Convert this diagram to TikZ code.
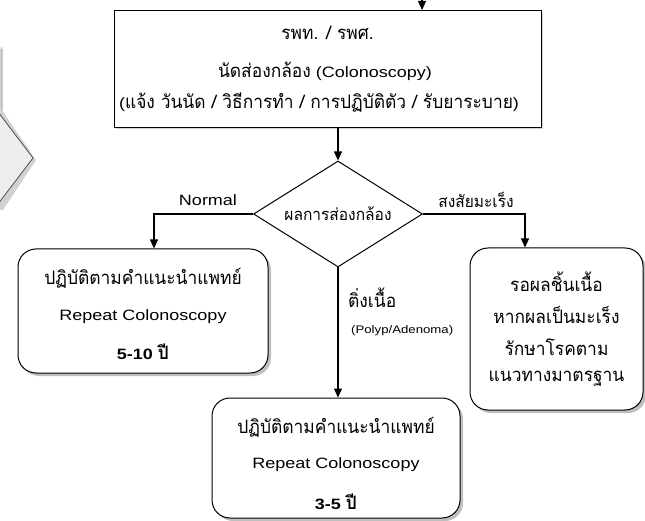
\documentclass[tikz,border=0pt]{standalone}
\usepackage{fontspec}
\setmainfont[FakeStretch=1.2]{Liberation Sans}
\newfontfamily\thaifont[Script=Thai,FakeStretch=0.94]{Loma}
\newcommand{\thx}[1]{{\thaifont\fontsize{18.5}{21}\selectfont #1}}
\newcommand{\thxs}[1]{{\thaifont\fontsize{16.5}{19}\selectfont #1}}
\usetikzlibrary{shapes.geometric,shadows,arrows.meta}
\tikzset{
  conn/.style={line width=1.2pt,-{Triangle[width=8pt,length=9pt]}},
  topbox/.style={draw,line width=1pt,fill=white,minimum width=427pt,minimum height=117pt,align=center,
     drop shadow={opacity=0.35,shadow xshift=1.5pt,shadow yshift=-1.5pt}},
  resbox/.style={draw,line width=1pt,fill=white,rounded corners=18pt,align=center,
     drop shadow={opacity=0.5,shadow xshift=3pt,shadow yshift=-3pt}},
  dec/.style={draw,line width=1pt,fill=white,diamond,minimum width=169pt,minimum height=106pt,inner sep=0pt},
  lbl/.style={font=\fontsize{15}{18}\selectfont,inner sep=0pt},
}
\begin{document}
\begin{tikzpicture}[x=1pt,y=-1pt]
\useasboundingbox (0,0) rectangle (645,521);
% partial gray shape at left edge
\fill[gray!60,opacity=0.6] (-5,49) -- (3,49) -- (3,112) -- (36,160) -- (3,210) -- (-5,210) -- cycle;
\filldraw[fill=black!7,draw=black!75,line width=0.7pt] (-5,108) -- (33,158) -- (-5,208);
\draw[black!25,line width=0.6pt] (1,47) -- (1,109);
% nodes
\node[topbox] (top) at (327.5,69) {};
\node[lbl] (t1) at (327.5,33) {\thx{รพท. / รพศ.}};
\node[lbl] (t2) at (325,71) {\thx{นัดส่องกล้อง} (Colonoscopy)};
\node[lbl] (t3) at (319,103) {(\thx{แจ้ง วันนัด / วิธีการทำ / การปฏิบัติตัว / รับยาระบาย})};
\coordinate (in) at (422,0);
\node[dec] (d) at (338,214) {};
\node[lbl] (dl) at (d.center) {\thxs{ผลการส่องกล้อง}};
\node[resbox,minimum width=250pt,minimum height=124pt] (L) at (143,311) {};
\node[lbl] (L1) at (143,278) {\thx{ปฏิบัติตามคำแนะนำแพทย์}};
\node[lbl] (L2) at (143,317) {Repeat Colonoscopy};
\node[lbl] (L3) at (143,352) {\bfseries 5-10 \thx{\bfseries ปี}};
\node[resbox,minimum width=173pt,minimum height=162pt] (R) at (556.5,329) {};
\node[lbl] (R1) at (556.5,282) {\thx{รอผลชิ้นเนื้อ}};
\node[lbl] (R2) at (556.5,315) {\thx{หากผลเป็นมะเร็ง}};
\node[lbl] (R3) at (556.5,347) {\thx{รักษาโรคตาม}};
\node[lbl] (R4) at (556.5,379) {\thx{แนวทางมาตรฐาน}};
\node[resbox,minimum width=248pt,minimum height=120pt] (B) at (336,458) {};
\node[lbl] (B1) at (336,427) {\thx{ปฏิบัติตามคำแนะนำแพทย์}};
\node[lbl] (B2) at (336,465) {Repeat Colonoscopy};
\node[lbl] (B3) at (336,502) {\bfseries 3-5 \thx{\bfseries ปี}};
% labels
\node[lbl] (nl) at (208,200) {Normal};
\node[lbl] (sl) at (476,200) {\thxs{สงสัยมะเร็ง}};
\node[lbl,anchor=west] (pl) at (348,298) {\thx{ติ่งเนื้อ}};
\node[anchor=west,inner sep=0pt,font=\fontsize{11}{13}\selectfont] (pl2) at (351,331) {(Polyp/Adenoma)};
% connectors
\coordinate (lt) at (154,0);
\coordinate (rt) at (525,0);
\draw[conn] (in) -- (in |- top.north);
\draw[conn] (top.south -| d.north) -- (d.north);
\draw[conn] (d.west) -| (lt |- L.north);
\draw[conn] (d.east) -| (rt |- R.north);
\draw[conn] (d.south) -- (d.south |- B.north);
\end{tikzpicture}
\end{document}
